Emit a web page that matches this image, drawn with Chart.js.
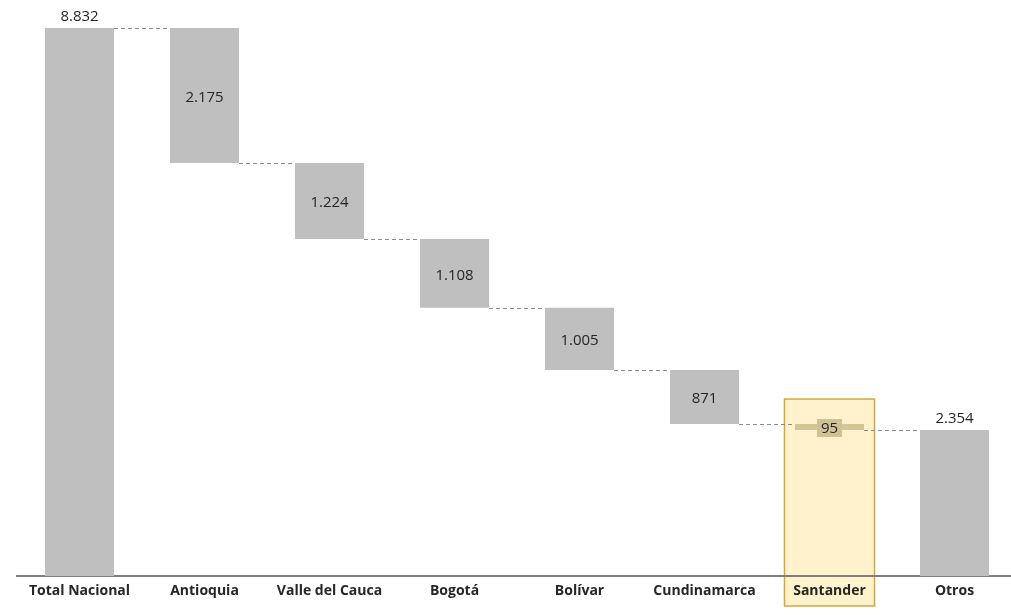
<!DOCTYPE html>
<html>
<head>
<meta charset="utf-8">
<script src="https://cdn.jsdelivr.net/npm/chart.js@4.4.1/dist/chart.umd.min.js"></script>
<style>
  html, body { margin: 0; padding: 0; background: #fff; overflow: hidden; }
  #wrap { width: 1017px; height: 615px; position: relative; }
</style>
</head>
<body>
<div id="wrap"><canvas id="chart"></canvas></div>
<script>
// ── Data ──────────────────────────────────────────────────────────────────────
const categories = ['Total Nacional', 'Antioquia', 'Valle del Cauca', 'Bogotá', 'Bolívar', 'Cundinamarca', 'Santander', 'Otros'];
const amounts    = [8832, 2175, 1224, 1108, 1005, 871, 95, 2354];
const kinds      = ['total', 'step', 'step', 'step', 'step', 'step', 'step', 'total'];
const highlight  = 'Santander';

// running totals -> floating [low, high] ranges
let level = 0;
const ranges = amounts.map((v, i) => {
  if (kinds[i] === 'total') { level = v; return [0, v]; }
  const top = level; level -= v; return [level, top];
});
const fmt = n => n.toLocaleString('de-DE');

const barColors = categories.map(c => c === highlight ? '#d4c597' : '#bfbfbf');

// ── Plugins ───────────────────────────────────────────────────────────────────
const highlightBox = {
  id: 'highlightBox',
  beforeDraw(chart) {
    const {ctx, scales: {x, y}} = chart;
    const i = categories.indexOf(highlight);
    const cx = x.getPixelForValue(i);
    const top = y.getPixelForValue(ranges[i][1]) - 25;
    ctx.save();
    ctx.fillStyle = '#fff2cc';
    ctx.strokeStyle = '#d6a83a';
    ctx.lineWidth = 1.5;
    ctx.fillRect(cx - 45, top, 90, 606 - top);
    ctx.strokeRect(cx - 45, top, 90, 606 - top);
    ctx.restore();
  }
};

const connectors = {
  id: 'connectors',
  afterDatasetsDraw(chart) {
    const {ctx, scales: {y}} = chart;
    const bars = chart.getDatasetMeta(0).data;
    ctx.save();
    ctx.strokeStyle = '#8c8c8c';
    ctx.lineWidth = 1;
    ctx.setLineDash([4, 3]);
    for (let i = 0; i < bars.length - 1; i++) {
      const lvl = kinds[i] === 'total' ? ranges[i][1] : ranges[i][0];
      const py = Math.round(y.getPixelForValue(lvl)) + 0.5;
      const x0 = bars[i].x + bars[i].width / 2;
      const x1 = bars[i + 1].x - bars[i + 1].width / 2;
      ctx.beginPath(); ctx.moveTo(x0, py); ctx.lineTo(x1, py); ctx.stroke();
    }
    ctx.restore();
  }
};

const valueLabels = {
  id: 'valueLabels',
  afterDatasetsDraw(chart) {
    const {ctx} = chart;
    const bars = chart.getDatasetMeta(0).data;
    ctx.save();
    ctx.font = '15px "Open Sans", sans-serif';
    ctx.textAlign = 'center';
    ctx.textBaseline = 'middle';
    bars.forEach((b, i) => {
      const txt = fmt(amounts[i]);
      let ty;
      if (kinds[i] === 'total') ty = b.y - 12;
      else ty = (b.y + b.base) / 2 + 1;
      if (categories[i] === highlight) {
        const w = ctx.measureText(txt).width + 8;
        ctx.fillStyle = '#d1c296';
        ctx.fillRect(b.x - w / 2, ty - 9, w, 18);
      }
      ctx.fillStyle = '#262626';
      ctx.fillText(txt, b.x, ty + 1);
    });
    ctx.restore();
  }
};

// ── Chart ─────────────────────────────────────────────────────────────────────
new Chart(document.getElementById('chart'), {
  type: 'bar',
  data: {
    labels: categories,
    datasets: [{
      data: ranges,
      backgroundColor: barColors,
      borderWidth: 0,
      borderSkipped: false,
      barPercentage: 0.552,
      categoryPercentage: 1
    }]
  },
  options: {
    responsive: true,
    maintainAspectRatio: false,
    animation: false,
    layout: { padding: { left: 17, right: 0, top: 0, bottom: 0 } },
    plugins: { legend: { display: false }, tooltip: { enabled: false } },
    scales: {
      x: {
        grid: { display: false, drawTicks: false },
        border: { color: '#7f7f7f', width: 2 },
        ticks: {
          color: '#262626',
          padding: 7,
          font: { family: '"Open Sans", sans-serif', size: 14, weight: 'bold' },
          maxRotation: 0,
          autoSkip: false
        },
        afterFit(s) { s.height = 39; }
      },
      y: {
        display: false,
        min: 0,
        max: 9283
      }
    }
  },
  plugins: [highlightBox, connectors, valueLabels]
});
</script>
</body>
</html>
